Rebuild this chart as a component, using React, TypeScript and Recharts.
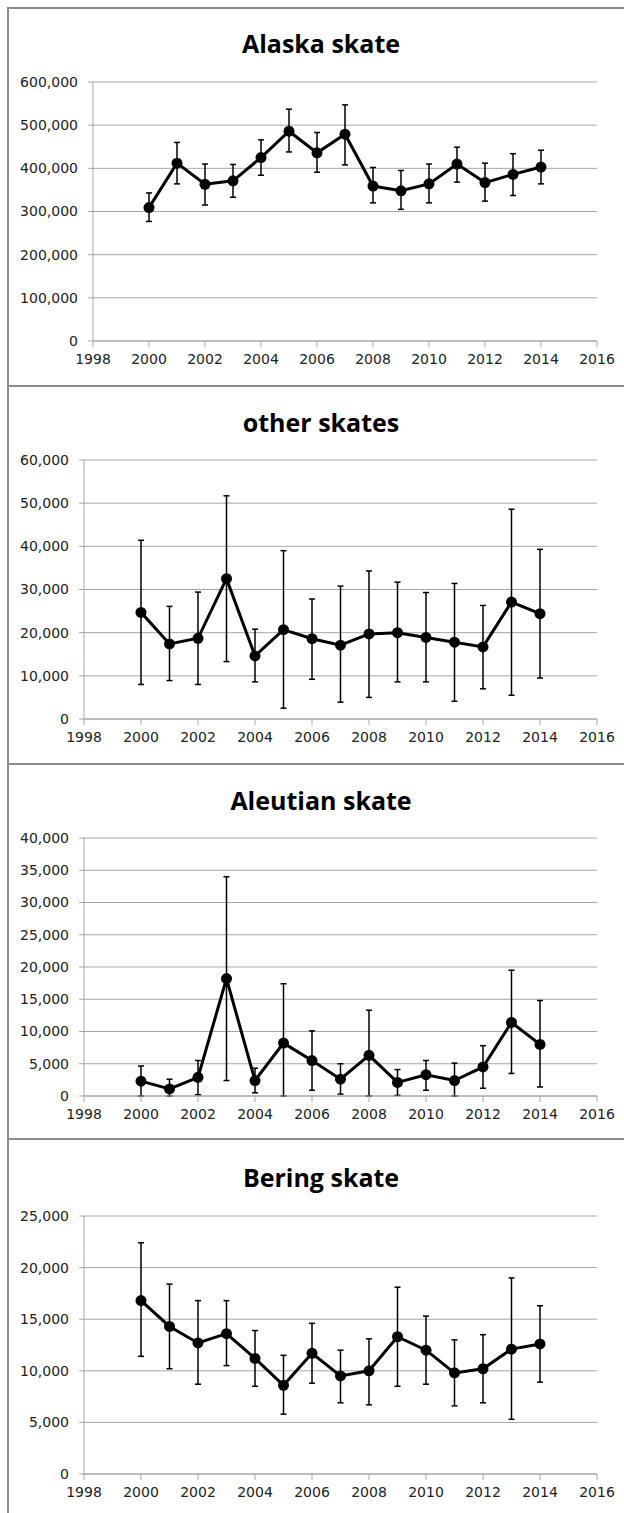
import { LineChart, Line, XAxis, YAxis, CartesianGrid, ErrorBar } from "recharts";

// survey years and axis ticks
const years = [2000, 2001, 2002, 2003, 2004, 2005, 2006, 2007, 2008, 2009, 2010, 2011, 2012, 2013, 2014];
const xTicks = [1998, 2000, 2002, 2004, 2006, 2008, 2010, 2012, 2014, 2016];

// Alaska skate biomass (t) with 95% CI
const alaskaMean = [309000, 412000, 363000, 371000, 425000, 486000, 436000, 479000, 359000, 348000, 364000, 410000, 367000, 386000, 403000];
const alaskaLow = [277000, 364000, 315000, 333000, 384000, 438000, 391000, 408000, 320000, 305000, 320000, 368000, 324000, 337000, 364000];
const alaskaHigh = [343000, 460000, 410000, 409000, 466000, 537000, 483000, 547000, 402000, 395000, 410000, 449000, 412000, 434000, 442000];
const alaskaTicks = [0, 100000, 200000, 300000, 400000, 500000, 600000];

// other skates
const otherMean = [24700, 17400, 18700, 32500, 14600, 20700, 18600, 17100, 19700, 20000, 18900, 17800, 16700, 27100, 24400];
const otherLow = [8000, 8900, 8000, 13300, 8600, 2500, 9200, 3900, 5000, 8600, 8600, 4100, 7000, 5500, 9500];
const otherHigh = [41400, 26100, 29400, 51700, 20800, 39000, 27800, 30800, 34300, 31700, 29300, 31400, 26300, 48600, 39300];
const otherTicks = [0, 10000, 20000, 30000, 40000, 50000, 60000];

// Aleutian skate
const aleutianMean = [2300, 1100, 2900, 18200, 2400, 8200, 5500, 2600, 6300, 2100, 3300, 2400, 4500, 11400, 8000];
const aleutianLow = [0, 0, 200, 2400, 500, 0, 900, 300, 0, 100, 900, 0, 1200, 3500, 1400];
const aleutianHigh = [4650, 2600, 5500, 34000, 4300, 17400, 10100, 5000, 13300, 4100, 5500, 5100, 7800, 19500, 14800];
const aleutianTicks = [0, 5000, 10000, 15000, 20000, 25000, 30000, 35000, 40000];

// Bering skate
const beringMean = [16800, 14300, 12700, 13600, 11200, 8600, 11700, 9500, 10000, 13300, 12000, 9800, 10200, 12100, 12600];
const beringLow = [11400, 10200, 8700, 10500, 8500, 5800, 8800, 6900, 6700, 8500, 8700, 6600, 6900, 5300, 8900];
const beringHigh = [22400, 18400, 16800, 16800, 13900, 11500, 14600, 12000, 13100, 18100, 15300, 13000, 13500, 19000, 16300];
const beringTicks = [0, 5000, 10000, 15000, 20000, 25000];

const FONT = "'DejaVu Sans', sans-serif";
const TITLE_FONT = "'Open Sans', sans-serif";
const GRID = "#a6a6a6";
const BORDER = "#8c8c8c";

function buildRows(mean: number[], low: number[], high: number[]) {
  return years.map((year, i) => ({
    year,
    value: mean[i],
    err: [mean[i] - low[i], high[i] - mean[i]],
  }));
}

type PanelProps = {
  title: string;
  mean: number[];
  low: number[];
  high: number[];
  yTicks: number[];
  top: number;
  height: number;
  plotLeft: number;
  plotTop: number;
  plotBottom: number;
  titleY: number;
};

function SkatePanel(p: PanelProps) {
  const data = buildRows(p.mean, p.low, p.high);
  const yMax = p.yTicks[p.yTicks.length - 1];
  return (
    <div style={{ position: "absolute", left: 0, top: p.top, width: 624, height: p.height }}>
      <div
        style={{
          position: "absolute",
          left: 0,
          width: 642,
          top: p.titleY - 17,
          lineHeight: "34px",
          textAlign: "center",
          fontFamily: TITLE_FONT,
          fontWeight: 700,
          fontSize: 25,
          color: "#000",
        }}
      >
        {p.title}
      </div>
      <LineChart
        width={624}
        height={p.height}
        data={data}
        margin={{ top: p.plotTop, right: 27, bottom: 0, left: 0 }}
      >
        <CartesianGrid vertical={false} stroke={GRID} />
        <XAxis
          dataKey="year"
          type="number"
          domain={[1998, 2016]}
          ticks={xTicks}
          height={p.height - p.plotBottom}
          stroke={GRID}
          tickSize={6}
          tickMargin={7}
          tick={{ fill: "#222", fontSize: 14, fontFamily: FONT }}
        />
        <YAxis
          width={p.plotLeft}
          domain={[0, yMax]}
          ticks={p.yTicks}
          stroke={GRID}
          tickSize={5}
          tickMargin={10}
          tickFormatter={(v: number) => v.toLocaleString("en-US")}
          tick={{ fill: "#222", fontSize: 14, fontFamily: FONT }}
        />
        <Line
          dataKey="value"
          stroke="#000"
          strokeWidth={3}
          dot={{ r: 5.5, fill: "#000", stroke: "#000", strokeWidth: 0 }}
          isAnimationActive={false}
        >
          <ErrorBar dataKey="err" direction="y" width={3} stroke="#000" strokeWidth={1.5} />
        </Line>
      </LineChart>
    </div>
  );
}

export default function App() {
  return (
    <div style={{ position: "absolute", left: 0, top: 0, width: 624, height: 1513, background: "#fff", overflow: "hidden" }}>
      <SkatePanel title="Alaska skate" mean={alaskaMean} low={alaskaLow} high={alaskaHigh} yTicks={alaskaTicks}
        top={8} height={378} plotLeft={93} plotTop={74} plotBottom={333} titleY={35} />
      <SkatePanel title="other skates" mean={otherMean} low={otherLow} high={otherHigh} yTicks={otherTicks}
        top={386} height={378} plotLeft={84} plotTop={74} plotBottom={333} titleY={36} />
      <SkatePanel title="Aleutian skate" mean={aleutianMean} low={aleutianLow} high={aleutianHigh} yTicks={aleutianTicks}
        top={764} height={375} plotLeft={84} plotTop={74} plotBottom={332} titleY={36} />
      <SkatePanel title="Bering skate" mean={beringMean} low={beringLow} high={beringHigh} yTicks={beringTicks}
        top={1139} height={374} plotLeft={84} plotTop={77} plotBottom={335} titleY={38} />
      {/* panel frames */}
      <div style={{ position: "absolute", left: 7, top: 7, width: 2, height: 1506, background: BORDER }} />
      {[7, 385, 763, 1138].map((y) => (
        <div key={y} style={{ position: "absolute", left: 7, top: y, width: 617, height: 2, background: BORDER }} />
      ))}
    </div>
  );
}
